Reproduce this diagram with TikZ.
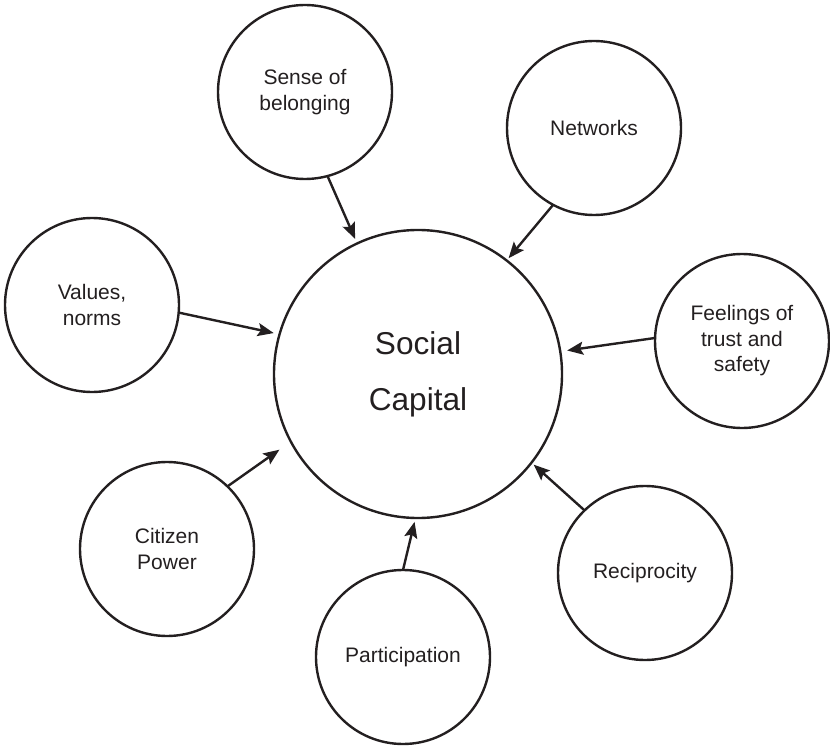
\documentclass[tikz,border=0pt]{standalone}
\usepackage{fontspec}
\setmainfont{Liberation Sans}
\usetikzlibrary{arrows.meta}
\definecolor{ink}{RGB}{35,31,32}
\begin{document}
\begin{tikzpicture}[x=1pt,y=-1pt,
  every node/.style={outer sep=0pt},
  topic/.style={circle,draw=ink,line width=2.4pt,minimum size=174pt,inner sep=0pt,
    align=center,text=ink,font=\fontsize{21}{25.5}\selectfont},
  core/.style={topic,minimum size=288pt,font=\fontsize{31.6}{56}\selectfont},
  feeds/.style={draw=ink,line width=2.4pt,-{Stealth[length=16pt,width=13pt,inset=3pt]}}]
\useasboundingbox (0,0) rectangle (830,746);

% central concept
\node[core] (sc) at (418,374) {Social\\Capital};

% contributing factors
\node[topic] (belong) at (305,92)  {Sense of\\belonging};
\node[topic] (net)    at (594,128) {Networks};
\node[topic] (values) at (92,305)  {Values,\\norms};
\node[topic] (trust)  at (742,341) {Feelings of\\trust and\\safety};
\node[topic] (power)  at (167,549) {Citizen\\Power};
\node[topic] (part)   at (403,657) {Participation};
\node[topic] (recip)  at (645,573) {Reciprocity};

% arrows into the centre
\draw[feeds, shorten >=5pt]  (belong.-75.6) -- (sc.115.4);
\draw[feeds, shorten >=3pt]  (net.-118)     -- (sc.52.7);
\draw[feeds, shorten >=6pt]  (values.-5.8)  -- (sc.164.1);
\draw[feeds, shorten >=7pt]  (trust.178)    -- (sc.9);
\draw[feeds, shorten >=14pt] (power.46.4)   -- (sc.-152.5);
\draw[feeds, shorten >=4pt]  (part.90)      -- (sc.-91.5);
\draw[feeds, shorten >=3pt]  (recip.134.5)  -- (sc.-38.9);
\end{tikzpicture}
\end{document}
